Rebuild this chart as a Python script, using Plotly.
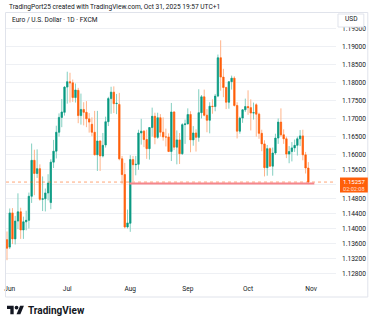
import math
import pandas as pd
import plotly.graph_objects as go

# ---------------- data ----------------
dates = pd.bdate_range("2025-05-30", "2025-10-31").strftime("%Y-%m-%d").tolist()

open_ = [1.1370, 1.1350, 1.1442, 1.1372, 1.1420, 1.1445, 1.1396, 1.1418, 1.1422, 1.1487,
         1.1585, 1.1549, 1.1562, 1.1479, 1.1480, 1.1496, 1.1470, 1.1580, 1.1610, 1.1662,
         1.1703, 1.1717, 1.1787, 1.1802, 1.1799, 1.1758, 1.1778, 1.1708, 1.1725, 1.1717,
         1.1699, 1.1684, 1.1662, 1.1600, 1.1638, 1.1597, 1.1627, 1.1691, 1.1755, 1.1773,
         1.1741, 1.1739, 1.1589, 1.1546, 1.1404, 1.1414, 1.1587, 1.1573, 1.1574, 1.1660,
         1.1665, 1.1642, 1.1617, 1.1675, 1.1706, 1.1648, 1.1702, 1.1662, 1.1649, 1.1649,
         1.1609, 1.1718, 1.1621, 1.1641, 1.1603, 1.1683, 1.1685, 1.1711, 1.1641, 1.1660,
         1.1648, 1.1716, 1.1760, 1.1709, 1.1695, 1.1734, 1.1733, 1.1762, 1.1869, 1.1815,
         1.1786, 1.1745, 1.1802, 1.1812, 1.1736, 1.1665, 1.1701, 1.1724, 1.1733, 1.1730,
         1.1715, 1.1738, 1.1712, 1.1659, 1.1630, 1.1565, 1.1617, 1.1569, 1.1605, 1.1646,
         1.1690, 1.1655, 1.1644, 1.1602, 1.1609, 1.1619, 1.1626, 1.1644, 1.1652, 1.1600,
         1.1564]
high = [1.1392, 1.1454, 1.1455, 1.1434, 1.1495, 1.1456, 1.1432, 1.1448, 1.1497, 1.1631,
        1.1614, 1.1615, 1.1574, 1.1541, 1.1508, 1.1547, 1.1588, 1.1641, 1.1680, 1.1714,
        1.1754, 1.1790, 1.1830, 1.1827, 1.1808, 1.1797, 1.1785, 1.1769, 1.1745, 1.1748,
        1.1715, 1.1703, 1.1721, 1.1721, 1.1640, 1.1660, 1.1705, 1.1760, 1.1788, 1.1789,
        1.1768, 1.1771, 1.1597, 1.1578, 1.1451, 1.1599, 1.1597, 1.1597, 1.1669, 1.1699,
        1.1668, 1.1669, 1.1676, 1.1730, 1.1716, 1.1716, 1.1712, 1.1703, 1.1672, 1.1659,
        1.1743, 1.1720, 1.1667, 1.1660, 1.1687, 1.1697, 1.1728, 1.1720, 1.1679, 1.1670,
        1.1781, 1.1765, 1.1780, 1.1726, 1.1745, 1.1753, 1.1768, 1.1878, 1.1918, 1.1838,
        1.1788, 1.1803, 1.1819, 1.1817, 1.1745, 1.1705, 1.1726, 1.1755, 1.1778, 1.1753,
        1.1744, 1.1742, 1.1716, 1.1669, 1.1640, 1.1627, 1.1620, 1.1620, 1.1658, 1.1700,
        1.1728, 1.1670, 1.1650, 1.1624, 1.1635, 1.1642, 1.1650, 1.1668, 1.1669, 1.1608,
        1.1580]
low = [1.1315, 1.1345, 1.1358, 1.1357, 1.1398, 1.1372, 1.1372, 1.1395, 1.1400, 1.1469,
       1.1490, 1.1537, 1.1475, 1.1447, 1.1446, 1.1476, 1.1452, 1.1564, 1.1590, 1.1650,
       1.1676, 1.1708, 1.1741, 1.1744, 1.1746, 1.1744, 1.1687, 1.1683, 1.1681, 1.1676,
       1.1661, 1.1651, 1.1599, 1.1556, 1.1556, 1.1593, 1.1620, 1.1679, 1.1713, 1.1715,
       1.1712, 1.1585, 1.1521, 1.1400, 1.1400, 1.1391, 1.1528, 1.1544, 1.1559, 1.1628,
       1.1621, 1.1589, 1.1587, 1.1650, 1.1629, 1.1644, 1.1650, 1.1639, 1.1623, 1.1608,
       1.1583, 1.1613, 1.1574, 1.1575, 1.1600, 1.1630, 1.1684, 1.1607, 1.1625, 1.1609,
       1.1636, 1.1700, 1.1706, 1.1662, 1.1659, 1.1713, 1.1720, 1.1759, 1.1777, 1.1759,
       1.1726, 1.1727, 1.1780, 1.1733, 1.1645, 1.1658, 1.1688, 1.1718, 1.1710, 1.1667,
       1.1697, 1.1650, 1.1644, 1.1610, 1.1541, 1.1543, 1.1568, 1.1543, 1.1600, 1.1630,
       1.1650, 1.1630, 1.1591, 1.1577, 1.1582, 1.1608, 1.1598, 1.1624, 1.1585, 1.1549,
       1.1520]
close = [1.1347, 1.1442, 1.1372, 1.1420, 1.1445, 1.1396, 1.1418, 1.1422, 1.1487, 1.1585,
         1.1549, 1.1562, 1.1479, 1.1480, 1.1496, 1.1523, 1.1580, 1.1610, 1.1662, 1.1703,
         1.1718, 1.1787, 1.1802, 1.1799, 1.1758, 1.1779, 1.1708, 1.1725, 1.1717, 1.1699,
         1.1690, 1.1662, 1.1600, 1.1638, 1.1597, 1.1626, 1.1691, 1.1755, 1.1773, 1.1741,
         1.1742, 1.1589, 1.1546, 1.1404, 1.1415, 1.1587, 1.1573, 1.1574, 1.1660, 1.1665,
         1.1642, 1.1617, 1.1675, 1.1706, 1.1648, 1.1702, 1.1662, 1.1649, 1.1649, 1.1609,
         1.1718, 1.1621, 1.1641, 1.1603, 1.1683, 1.1685, 1.1711, 1.1641, 1.1660, 1.1648,
         1.1716, 1.1760, 1.1709, 1.1695, 1.1734, 1.1733, 1.1762, 1.1869, 1.1815, 1.1786,
         1.1745, 1.1802, 1.1812, 1.1736, 1.1665, 1.1701, 1.1724, 1.1733, 1.1730, 1.1715,
         1.1716, 1.1712, 1.1659, 1.1630, 1.1565, 1.1617, 1.1569, 1.1605, 1.1646, 1.1690,
         1.1655, 1.1644, 1.1602, 1.1609, 1.1619, 1.1626, 1.1644, 1.1652, 1.1600, 1.1564,
         1.15257]

month_labels = ["Jun", "Jul", "Aug", "Sep", "Oct", "Nov"]
price_ticks = [1.128, 1.132, 1.136, 1.140, 1.144, 1.148, 1.152, 1.156, 1.160,
               1.165, 1.170, 1.175, 1.180, 1.185, 1.190, 1.195]
hidden_ticks = [1.152]  # label covered by the last-price tag
last_price = 1.15257
countdown = "02:02:08"
ray_level = 1.1522
ray_start = "2025-08-01"

header_text = "TradingPort25 created with TradingView.com, Oct 31, 2025 19:57 UTC+1"
title_text = "Euro / U.S. Dollar · 1D · FXCM"

# ---------------- styles ----------------
GREEN = "#089981"
ORANGE = "#FF5F0A"
GREEN_WICK = "#83cfc1"
ORANGE_WICK = "#ffb48a"
TXT = "#131722"
GRID = "#eef0f4"
FONT = "Roboto"

W, H = 375, 324
L, R, T, B = 4, 39, 13, 44
PW, PH = W - L - R, H - T - B


def px(x):
    return (x - L) / PW


def py(y):
    return (H - B - y) / PH


idx = list(range(len(dates)))
month_pos = []
for m in [6, 7, 8, 9, 10]:
    month_pos.append(next(i for i, d in enumerate(dates) if int(d[5:7]) == m))
month_pos.append(len(dates))

body_hi = [max(o, c) for o, c in zip(open_, close)]
body_lo = [min(o, c) for o, c in zip(open_, close)]

fig = go.Figure()
fig.add_trace(go.Candlestick(
    x=idx, open=open_, high=high, low=low, close=close,
    increasing=dict(line=dict(color=GREEN_WICK, width=1), fillcolor=GREEN_WICK),
    decreasing=dict(line=dict(color=ORANGE_WICK, width=1), fillcolor=ORANGE_WICK),
    whiskerwidth=0, hoverinfo="skip", showlegend=False))
fig.add_trace(go.Candlestick(
    x=idx, open=open_, high=body_hi, low=body_lo, close=close,
    increasing=dict(line=dict(color=GREEN, width=0.5), fillcolor=GREEN),
    decreasing=dict(line=dict(color=ORANGE, width=0.5), fillcolor=ORANGE),
    whiskerwidth=0, hoverinfo="skip", showlegend=False))

# y mapping (log scale) anchored on two ticks
y_hi_tick, y_hi_px = 1.190, 46.7
y_lo_tick, y_lo_px = 1.128, 273.3
k = (y_lo_px - y_hi_px) / (math.log10(y_hi_tick) - math.log10(y_lo_tick))
y_top = math.log10(y_hi_tick) + (y_hi_px - T) / k
y_bot = math.log10(y_lo_tick) - ((H - B) - y_lo_px) / k

x_lo, x_hi = -0.36, -0.36 + PW / 2.756

fig.add_trace(go.Scatter(x=[x_lo, x_hi], y=[last_price, last_price], mode="lines",
                         line=dict(color="rgba(255,95,10,0.55)", width=1, dash="dot"),
                         hoverinfo="skip", showlegend=False))
ray_i = dates.index(ray_start)
fig.add_trace(go.Scatter(x=[ray_i - 0.3, len(dates) + 1.2], y=[ray_level, ray_level], mode="lines",
                         line=dict(color="#f6868c", width=2),
                         hoverinfo="skip", showlegend=False))

shapes = []
shapes.append(dict(type="rect", xref="paper", yref="paper", x0=px(3.5), x1=px(368), y0=py(297), y1=py(12.5),
                   line=dict(color="#e0e3eb", width=1), fillcolor="rgba(0,0,0,0)", layer="above"))
shapes.append(dict(type="rect", xref="paper", yref="paper", x0=px(338), x1=px(364), y0=py(27), y1=py(14),
                   line=dict(color="#e0e3eb", width=1), fillcolor="white", layer="above"))
shapes.append(dict(type="rect", xref="paper", yref="paper", x0=px(340), x1=px(368), y0=py(192.5), y1=py(177.5),
                   line=dict(width=0), fillcolor=ORANGE, layer="above"))

# TradingView logo
s, ox, oy = 0.48, 5.0, 305.7


def lp(ux, uy):
    return px(ox + ux * s), py(oy + (uy - 4) * s)


def path(points):
    return "M " + " L ".join(f"{lp(a, b)[0]:.5f},{lp(a, b)[1]:.5f}" for a, b in points) + " Z"


shapes.append(dict(type="path", xref="paper", yref="paper",
                   path=path([(14, 22), (7, 22), (7, 11), (0, 11), (0, 4), (14, 4)]),
                   fillcolor=TXT, line=dict(width=0), layer="above"))
shapes.append(dict(type="path", xref="paper", yref="paper",
                   path=path([(28, 22), (20, 22), (27.5, 4), (35.5, 4)]),
                   fillcolor=TXT, line=dict(width=0), layer="above"))
c0 = lp(16, 4)
c1 = lp(24, 12)
shapes.append(dict(type="circle", xref="paper", yref="paper", x0=c0[0], x1=c1[0], y0=c1[1], y1=c0[1],
                   fillcolor=TXT, line=dict(width=0), layer="above"))

annotations = [
    dict(text=header_text, x=px(5), y=py(6.5), xref="paper", yref="paper", xanchor="left", yanchor="middle",
         showarrow=False, font=dict(size=6.6, color=TXT, family=FONT)),
    dict(text=title_text, x=px(8), y=py(20), xref="paper", yref="paper", xanchor="left", yanchor="middle",
         showarrow=False, font=dict(size=6.6, color=TXT, family=FONT)),
    dict(text="USD", x=px(343), y=py(19.5), xref="paper", yref="paper", xanchor="left", yanchor="middle",
         showarrow=False, font=dict(size=6.6, color=TXT, family=FONT)),
    dict(text=f"{last_price:.5f}", x=px(354), y=py(181.3), xref="paper", yref="paper", xanchor="center",
         yanchor="middle", showarrow=False, font=dict(size=6.0, color="white", family=FONT)),
    dict(text=countdown, x=px(354), y=py(188.7), xref="paper", yref="paper", xanchor="center",
         yanchor="middle", showarrow=False, font=dict(size=5.6, color="rgba(255,255,255,0.8)", family=FONT)),
    dict(text="TradingView", x=px(24.5), y=py(310.5), xref="paper", yref="paper", xanchor="left",
         yanchor="middle", showarrow=False, font=dict(size=10, color=TXT, family=FONT, weight="bold")),
]

fig.update_layout(
    width=W, height=H, margin=dict(l=L, r=R, t=T, b=B),
    paper_bgcolor="white", plot_bgcolor="white",
    showlegend=False, shapes=shapes, annotations=annotations,
    font=dict(family=FONT, color=TXT, size=6.6),
    xaxis=dict(range=[x_lo, x_hi], tickvals=month_pos, ticktext=month_labels,
               showgrid=False, zeroline=False, showline=False, ticks="",
               rangeslider=dict(visible=False), ticklabelstandoff=3,
               tickfont=dict(size=6.6, color=TXT, family=FONT), fixedrange=True),
    yaxis=dict(type="log", side="right", range=[y_bot, y_top],
               tickvals=price_ticks,
               ticktext=["" if v in hidden_ticks else f"{v:.5f}" for v in price_ticks],
               showgrid=True, gridcolor=GRID, gridwidth=1, zeroline=False, showline=False, ticks="",
               ticklabelstandoff=5, tickfont=dict(size=6.6, color=TXT, family=FONT), fixedrange=True),
)

fig.write_html("out.html")
